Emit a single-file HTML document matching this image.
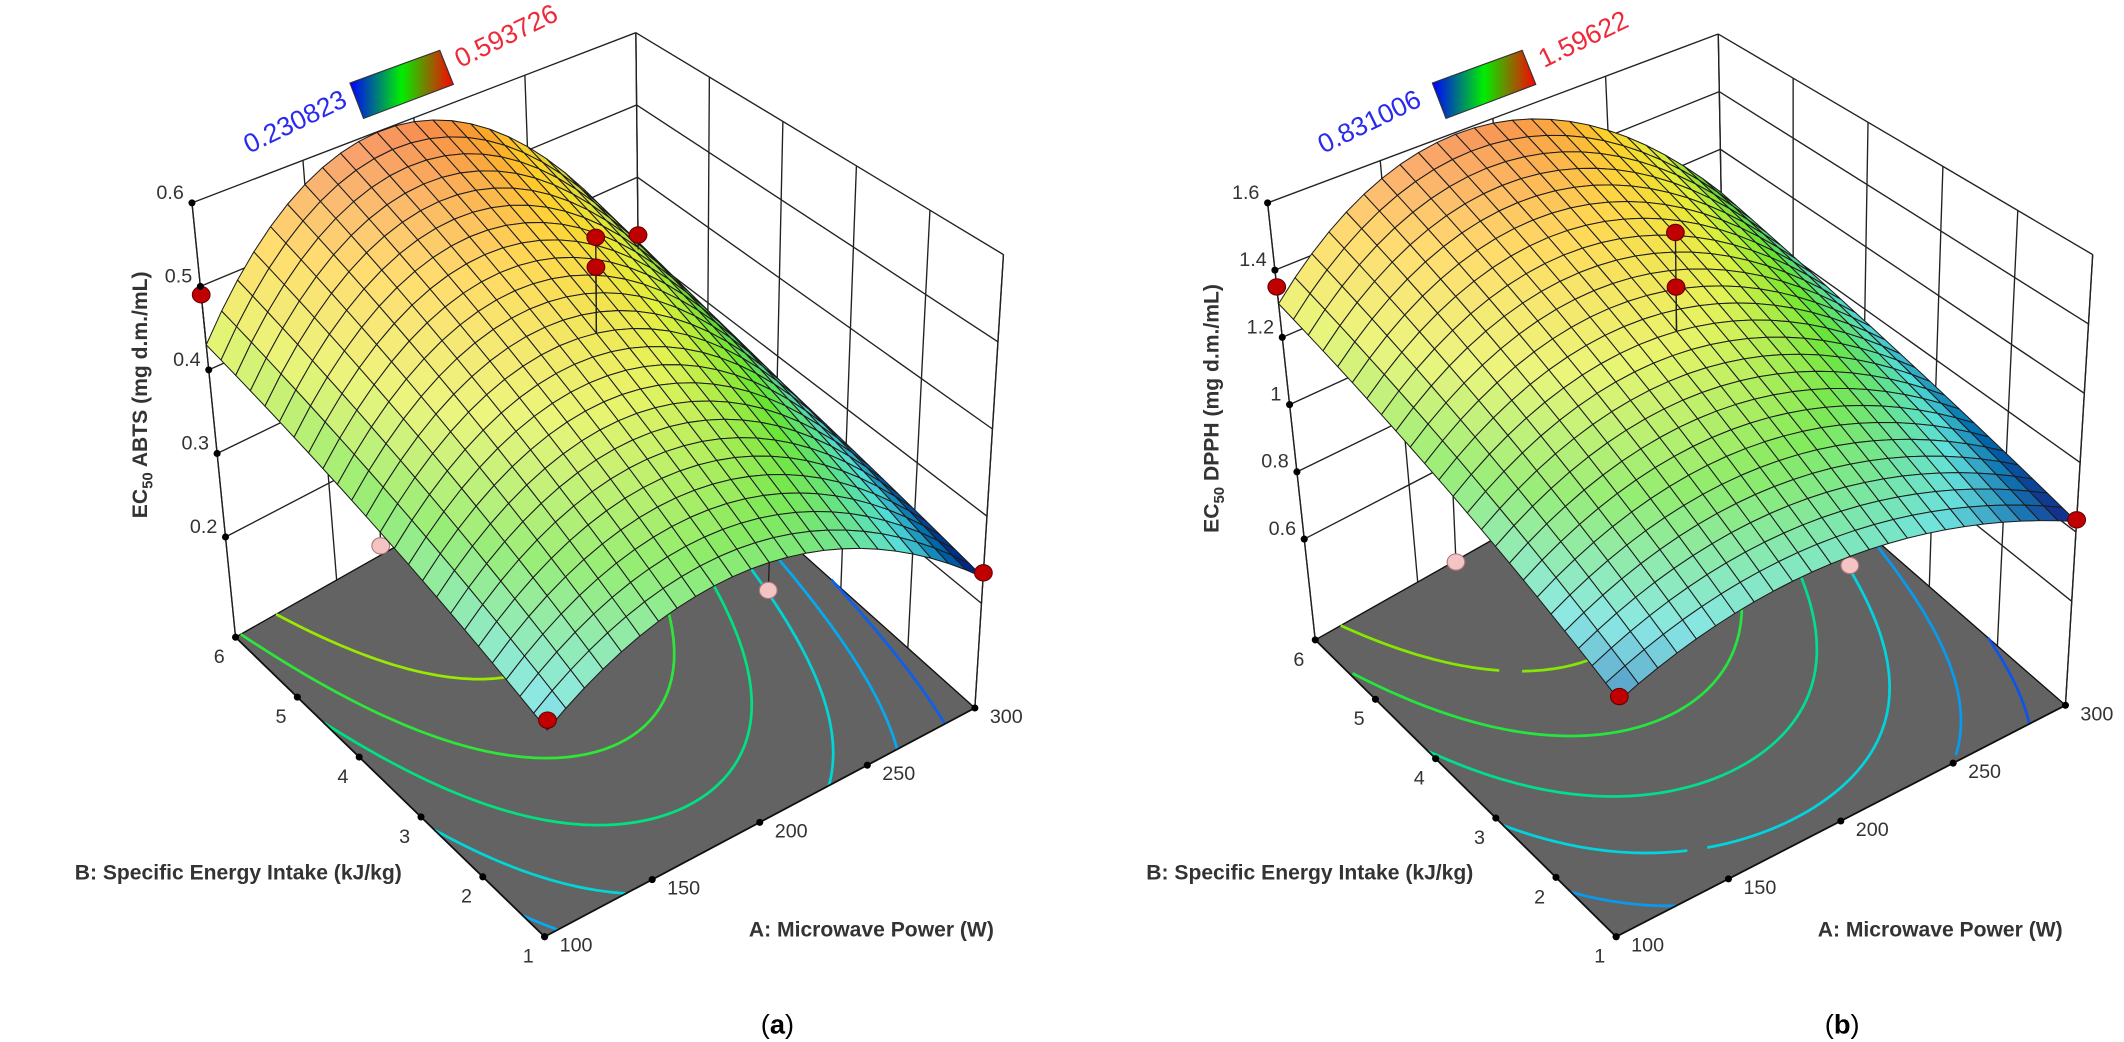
<!DOCTYPE html>
<html><head><meta charset="utf-8"><style>
html,body{margin:0;padding:0;background:#fff;}
svg{display:block;}
text{font-family:"Liberation Sans",sans-serif;}
</style></head><body>
<svg id="chart" width="2124" height="1042" viewBox="0 0 1560 765.3" preserveAspectRatio="none" xmlns="http://www.w3.org/2000/svg">
<defs>
<linearGradient id="cbar" x1="0" y1="0" x2="1" y2="0">
<stop offset="0" stop-color="#0000ff"/><stop offset="0.5" stop-color="#00ee00"/><stop offset="1" stop-color="#ff0000"/>
</linearGradient>
</defs>
<g id="panelA"></g>
<g id="panelB"></g>
<text x="571" y="759" font-size="20" text-anchor="middle">(<tspan font-weight="bold">a</tspan>)</text>
<text x="1353" y="759" font-size="20" text-anchor="middle">(<tspan font-weight="bold">b</tspan>)</text>
</svg>
<script>
// ---- shared axis data ----
const A_TICKS = [100, 150, 200, 250, 300];
const B_TICKS = [1, 2, 3, 4, 5, 6];
// ---- panel a data ----
const Z_TICKS_A = [0.2, 0.3, 0.4, 0.5, 0.6];
// coded model: c, A, B, A^2, B^2, AB, A^2B
const COEF_A = [0.4775, -0.0475, 0.1175, -0.165, 0.0, -0.0175, -0.065];
const RANGE_A = [0.230823, 0.593726];
const LEVELS_A = [0.26, 0.30, 0.34, 0.39, 0.44, 0.50];
const PT_A_A = [100, 300, 100, 300, 200, 200, 100, 200];
const PT_B_A = [1, 1, 6, 6, 3.5, 3.5, 3.5, 1];
const PT_Z_A = [0.30, 0.235, 0.49, 0.32, 0.59, 0.555, 0.345, 0.33];
// ---- panel b data ----
const Z_TICKS_B = [0.6, 0.8, 1, 1.2, 1.4, 1.6];
const COEF_B = [1.30, -0.08, 0.285, -0.28, 0.0, -0.045, -0.13];
const RANGE_B = [0.831006, 1.59622];
const LEVELS_B = [0.88, 0.96, 1.05, 1.15, 1.26, 1.38];
const PT_A_B = [100, 300, 100, 300, 200, 200, 100, 200];
const PT_B_B = [1, 1, 6, 6, 3.5, 3.5, 3.5, 1];
const PT_Z_B = [0.91, 0.835, 1.35, 0.99, 1.59, 1.43, 0.92, 0.99];

const NS = "http://www.w3.org/2000/svg";
function mk(parent, tag, attrs) {
  const e = document.createElementNS(NS, tag);
  for (const k in attrs) e.setAttribute(k, attrs[k]);
  parent.appendChild(e);
  return e;
}
function lerp(a, b, t) { return [a[0] + (b[0] - a[0]) * t, a[1] + (b[1] - a[1]) * t]; }
function bil(c, u, v) {
  return [c.F[0]*(1-u)*(1-v) + c.R[0]*u*(1-v) + c.L[0]*(1-u)*v + c.K[0]*u*v,
          c.F[1]*(1-u)*(1-v) + c.R[1]*u*(1-v) + c.L[1]*(1-u)*v + c.K[1]*u*v];
}
function interpMap(s, t) {
  t = Math.max(0, Math.min(1, t));
  for (let i = 1; i < s.length; i++) if (t <= s[i][0]) {
    const f = (t - s[i-1][0]) / (s[i][0] - s[i-1][0]);
    return s[i-1][1].map((c, j) => c + (s[i][1][j] - c) * f);
  }
  return s[s.length-1][1];
}
function surfCmap(t) {
  return interpMap([[0,[0,10,120]],[0.1,[0,110,175]],[0.2,[80,220,215]],[0.4,[100,228,50]],[0.6,[225,240,60]],[0.8,[255,205,40]],[1,[245,115,40]]], t);
}
function lineCmap(t) {
  return interpMap([[0,[20,40,230]],[0.25,[0,210,245]],[0.5,[0,230,90]],[0.7,[120,230,0]],[0.85,[240,240,0]],[1,[255,60,0]]], t);
}
function rgb(c) { return "rgb(" + c.map(v => Math.round(Math.max(0, Math.min(255, v)))).join(",") + ")"; }

function drawPanel(g, cfg) {
  const bot = cfg.bot, top = cfg.top;
  const zr = cfg.zmax - cfg.zmin;
  const P = (u, v, w) => lerp(bil(bot, u, v), bil(top, u, v), w);
  const uA = a => (a - 100) / 200, vB = b => (b - 1) / 5, wZ = z => (z - cfg.zmin) / zr;
  const f = (u, v) => { const x = 2*u - 1, y = 2*v - 1, c = cfg.coef;
    return c[0] + c[1]*x + c[2]*y + c[3]*x*x + c[4]*y*y + c[5]*x*y + c[6]*x*x*y; };
  const pts = a => a.map(p => p[0].toFixed(2) + "," + p[1].toFixed(2)).join(" ");

  const walls = mk(g, "g", {});
  
  
  const gl = (a, b) => mk(walls, "line", {x1: a[0], y1: a[1], x2: b[0], y2: b[1], stroke: "#222", "stroke-width": 1});
  A_TICKS.forEach(a => gl(P(uA(a),1,0), P(uA(a),1,1)));
  B_TICKS.forEach(b => gl(P(1,vB(b),0), P(1,vB(b),1)));
  cfg.zticks.forEach(z => { gl(P(0,1,wZ(z)), P(1,1,wZ(z))); gl(P(1,0,wZ(z)), P(1,1,wZ(z))); });
  gl(P(0,1,0), P(0,1,1)); gl(P(1,0,0), P(1,0,1));

  const floor = mk(g, "polygon", {points: pts([P(0,0,0), P(1,0,0), P(1,1,0), P(0,1,0)]), fill: "#636363", stroke: "#111", "stroke-width": 1});
  
  

  const M = 60;
  cfg.levels.forEach((lv, li) => {
    let d = "";
    for (let i = 0; i < M; i++) for (let j = 0; j < M; j++) {
      const u0 = i/M, u1 = (i+1)/M, v0 = j/M, v1 = (j+1)/M;
      const c = [[u0,v0,f(u0,v0)],[u1,v0,f(u1,v0)],[u1,v1,f(u1,v1)],[u0,v1,f(u0,v1)]];
      const cr = [];
      for (let k = 0; k < 4; k++) {
        const p = c[k], q = c[(k+1)%4];
        if ((p[2] - lv) * (q[2] - lv) < 0) {
          const t = (lv - p[2]) / (q[2] - p[2]);
          cr.push(P(p[0] + (q[0]-p[0])*t, p[1] + (q[1]-p[1])*t, 0));
        }
      }
      if (cr.length >= 2) d += "M" + cr[0][0].toFixed(2) + "," + cr[0][1].toFixed(2) + "L" + cr[1][0].toFixed(2) + "," + cr[1][1].toFixed(2);
      if (cr.length === 4) d += "M" + cr[2][0].toFixed(2) + "," + cr[2][1].toFixed(2) + "L" + cr[3][0].toFixed(2) + "," + cr[3][1].toFixed(2);
    }
    const t = (lv - cfg.range[0]) / (cfg.range[1] - cfg.range[0]);
    const path = mk(g, "path", {d: d, stroke: rgb(lineCmap(t)), "stroke-width": 2, fill: "none"});
    
    
  });

  const drawPoint = (k, parent) => {
    const u = uA(cfg.pa[k]), v = vB(cfg.pb[k]), z = cfg.pz[k];
    const p = P(u, v, wZ(z)), s = P(u, v, wZ(f(u, v)));
    const above = z >= f(u, v);
    mk(parent, "line", {x1: p[0], y1: p[1], x2: s[0], y2: s[1], stroke: "#222", "stroke-width": 1});
    const c = mk(parent, "ellipse", {cx: p[0], cy: p[1], rx: 6.5, ry: 6, fill: above ? "#c00000" : "#f4c4c4", stroke: above ? "#600" : "#a77", "stroke-width": 0.8});
    
    
  };
  const below = mk(g, "g", {});
  
  
  cfg.pa.forEach((_, k) => { if (cfg.pz[k] < f(uA(cfg.pa[k]), vB(cfg.pb[k]))) drawPoint(k, below); });

  const N = 24;
  const surf = mk(g, "g", {stroke: "#1c1c1c", "stroke-width": 0.75, "stroke-linejoin": "round"});
  
  
  const quads = [];
  for (let i = 0; i < N; i++) for (let j = 0; j < N; j++) {
    const um = (i + 0.5)/N, vm = (j + 0.5)/N;
    const depth = 168*um + 220*vm - 0.45*330*wZ(f(um, vm));
    quads.push([i, j, depth]);
  }
  quads.sort((a, b) => b[2] - a[2]);
  const Ln = [-0.5, -0.2, 0.84];
  quads.forEach(([i, j]) => {
    const u0 = i/N, u1 = (i+1)/N, v0 = j/N, v1 = (j+1)/N;
    const um = (u0+u1)/2, vm = (v0+v1)/2;
    const val = f(um, vm);
    const h = 1e-3;
    const dwdu = (f(um+h, vm) - f(um-h, vm)) / (2*h) / zr;
    const dwdv = (f(um, vm+h) - f(um, vm-h)) / (2*h) / zr;
    const nl = Math.hypot(dwdu, dwdv, 1);
    const s = (-dwdu*Ln[0] - dwdv*Ln[1] + Ln[2]) / nl;
    let col = surfCmap((val - cfg.range[0]) / (cfg.range[1] - cfg.range[0]));
    const wm = Math.max(0, Math.min(0.35, 0.6*(s - 0.42)));
    const dk = Math.max(0, Math.min(0.35, 0.5*(0.3 - s)));
    col = col.map(c => (c + (255 - c)*wm) * (1 - dk));
    const poly = mk(surf, "polygon", {points: pts([P(u0,v0,wZ(f(u0,v0))), P(u1,v0,wZ(f(u1,v0))), P(u1,v1,wZ(f(u1,v1))), P(u0,v1,wZ(f(u0,v1)))]), fill: rgb(col)});
    
    
  });

  const above = mk(g, "g", {});
  
  
  cfg.pa.forEach((_, k) => { if (cfg.pz[k] >= f(uA(cfg.pa[k]), vB(cfg.pb[k]))) drawPoint(k, above); });

  const ax = mk(g, "g", {"font-size": 14.5, fill: "#333"});
  
  
  mk(ax, "line", {x1: P(0,0,0)[0], y1: P(0,0,0)[1], x2: P(0,1,0)[0], y2: P(0,1,0)[1], stroke: "#111", "stroke-width": 1.3});
  mk(ax, "line", {x1: P(0,0,0)[0], y1: P(0,0,0)[1], x2: P(1,0,0)[0], y2: P(1,0,0)[1], stroke: "#111", "stroke-width": 1.3});
  cfg.zticks.forEach(z => {
    const p = P(0, 1, wZ(z));
    mk(ax, "circle", {cx: p[0], cy: p[1], r: 2.6, fill: "#000"});
    const t = mk(ax, "text", {x: p[0] - 6, y: p[1] - 3, "text-anchor": "end"});
    t.textContent = String(z);
    
    
  });
  B_TICKS.forEach(b => {
    const p = P(0, vB(b), 0);
    mk(ax, "circle", {cx: p[0], cy: p[1], r: 2.6, fill: "#000"});
    const t = mk(ax, "text", {x: p[0] - 12, y: p[1] + 19, "text-anchor": "middle"});
    t.textContent = String(b);
    
    
  });
  A_TICKS.forEach(a => {
    const p = P(uA(a), 0, 0);
    mk(ax, "circle", {cx: p[0], cy: p[1], r: 2.6, fill: "#000"});
    const t = mk(ax, "text", {x: p[0] + 11, y: p[1] + 11, "text-anchor": "start"});
    t.textContent = String(a);
    
    
  });

  const bt = mk(g, "text", {x: cfg.bTitle[0], y: cfg.bTitle[1], "font-size": 15.5, "font-weight": "bold", fill: "#333", "text-anchor": "middle"});
  bt.textContent = "B: Specific Energy Intake (kJ/kg)";
  
  
  const at = mk(g, "text", {x: cfg.aTitle[0], y: cfg.aTitle[1], "font-size": 15.5, "font-weight": "bold", fill: "#333", "text-anchor": "middle"});
  at.textContent = "A: Microwave Power (W)";
  
  
  const zt = mk(g, "text", {transform: "translate(" + cfg.zTitle[0] + "," + cfg.zTitle[1] + ") rotate(-90)", "font-size": 15.5, "font-weight": "bold", fill: "#333", "text-anchor": "middle"});
  
  
  const t1 = mk(zt, "tspan", {}); t1.textContent = "EC";
  const t2 = mk(zt, "tspan", {"font-size": 11, dy: 4}); t2.textContent = "50";
  const t3 = mk(zt, "tspan", {dy: -4}); t3.textContent = " " + cfg.zName + " (mg d.m./mL)";

  const bar = mk(g, "polygon", {points: pts(cfg.cbar), fill: "url(#cbar)", stroke: "#333", "stroke-width": 0.8});
  
  
  const lo = mk(g, "text", {transform: "translate(" + cfg.loPos[0] + "," + cfg.loPos[1] + ") rotate(-26)", "font-size": 19.5, fill: "#2a2aee"});
  lo.textContent = cfg.range[0].toString();
  
  
  const hi = mk(g, "text", {transform: "translate(" + cfg.hiPos[0] + "," + cfg.hiPos[1] + ") rotate(-26)", "font-size": 19.5, fill: "#ee2a3a"});
  hi.textContent = cfg.range[1].toString();
  
  
}

drawPanel(document.getElementById("panelA"), {
  bot: {F: [400, 688], R: [716, 520], L: [173, 468], K: [470, 300]},
  top: {F: [405, 312], R: [737, 187], L: [141, 149], K: [467, 24]},
  zmin: 0.08, zmax: 0.6, zticks: Z_TICKS_A, coef: COEF_A, range: RANGE_A, levels: LEVELS_A,
  pa: PT_A_A, pb: PT_B_A, pz: PT_Z_A,
  bTitle: [175, 646], aTitle: [640, 688], zTitle: [108, 290], zName: "ABTS",
  cbar: [[257, 61], [323, 37], [333, 62], [267, 87]], loPos: [183, 113], hiPos: [338, 50]
});
drawPanel(document.getElementById("panelB"), {
  bot: {F: [1187, 688], R: [1517, 518], L: [966, 470], K: [1267, 300]},
  top: {F: [1192, 312], R: [1537, 187], L: [931, 149], K: [1262, 25]},
  zmin: 0.30, zmax: 1.6, zticks: Z_TICKS_B, coef: COEF_B, range: RANGE_B, levels: LEVELS_B,
  pa: PT_A_B, pb: PT_B_B, pz: PT_Z_B,
  bTitle: [962, 646], aTitle: [1425, 688], zTitle: [895, 300], zName: "DPPH",
  cbar: [[1052, 61], [1118, 37], [1128, 62], [1062, 87]], loPos: [972, 113], hiPos: [1134, 50]
});
</script>
</body></html>
